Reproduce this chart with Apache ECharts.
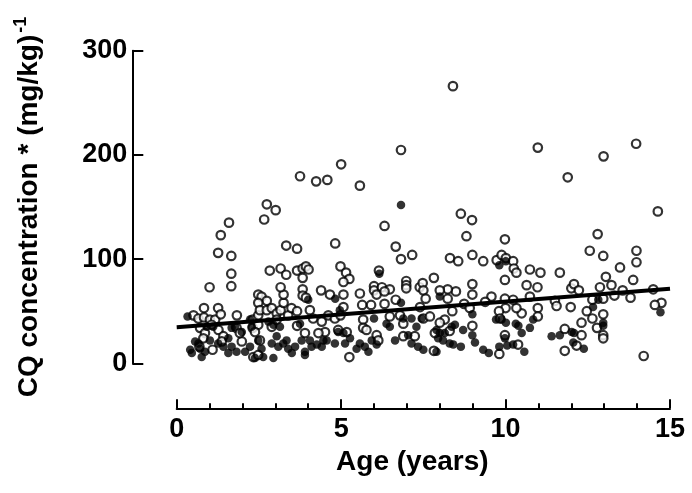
<!DOCTYPE html>
<html>
<head>
<meta charset="utf-8">
<script src="https://cdn.jsdelivr.net/npm/echarts@6/dist/echarts.min.js"></script>
<style>html,body{margin:0;padding:0;background:#fff}#c{width:692px;height:493px}</style>
</head>
<body>
<div id="c"></div>
<script>
// Open circles: age (years) and CQ concentration
const openAge = [8.4,8.64,8.98,10.98,11.89,12.98,13.97,14.63,6.82,5.0,3.75,4.24,4.58,5.57,2.74,3.01,1.59,2.66,6.32,
0.51,0.66,0.83,0.83,1.01,1.17,1.26,1.34,1.83,1.0,1.66,1.66,1.34,1.26,1.66,0.71,0.86,1.06,0.81,0.69,1.09,1.27,1.42,1.37,1.82,1.98,1.92,
2.31,2.31,2.48,2.48,2.58,2.74,2.48,2.53,2.74,2.89,3.04,3.16,3.25,3.25,3.16,2.83,3.16,3.33,3.66,3.83,3.93,4.01,3.83,3.83,3.83,3.93,3.33,3.66,
2.48,2.38,2.33,2.48,2.53,2.89,3.04,3.39,3.49,3.66,3.66,3.9,4.05,4.15,4.39,4.66,4.41,4.51,4.31,4.61,4.81,4.98,5.15,5.25,5.07,5.07,4.82,4.98,5.07,4.91,5.17,5.25,
5.57,5.64,5.67,5.67,5.77,5.91,6.0,6.0,6.24,6.48,6.08,6.32,6.32,6.08,6.13,6.48,6.66,6.79,6.89,6.98,6.98,6.98,7.39,7.48,7.5,7.57,7.16,6.82,6.66,6.15,7.5,7.24,6.89,
8.81,9.98,8.31,8.56,8.99,9.32,9.73,9.88,10.01,10.23,10.25,10.33,10.74,11.06,11.65,12.56,12.8,12.97,13.48,13.98,13.98,13.88,13.05,13.22,12.87,13.56,13.8,13.31,12.97,12.64,12.0,12.08,12.23,
11.5,11.55,11.98,12.47,12.64,12.97,12.78,12.97,12.97,12.31,12.31,11.8,11.8,12.16,14.49,14.74,14.54,14.2,10.64,10.97,10.74,10.98,10.98,10.49,10.33,10.23,9.98,9.98,10.0,9.8,9.83,9.98,10.38,9.81,
9.57,9.38,8.99,8.99,8.99,8.74,8.91,8.49,8.24,8.24,8.0,7.82,7.4,7.7,8.15,8.38,8.3,8.0,7.82,7.85];
const openConc = [266,143.6,137.5,207,178.5,198.6,210.7,145.8,204.7,191,179.5,174.6,176,170.5,152.6,147,135,138,131.8,
46,43,53,44,42,42,53,47,46,73,86,74,123,106,103,34,29,37,24,16,13,32,26,21,34,21,29,
42,34,46,66,64,60,58,51,51,53,48,51,58,66,73,89,91,85,89,91,93,90,82,71,65,63,113,110,
37,30,6,8,22,35,42,46,53,50,36,29,51,43,70,66,40,30,29,46,43,93,87,81,78,66,115,46,54,32,30,6,
67,56,42,34,32,56,74,70,73,71,66,69,57,27,22,45,61,46,38,79,75,72,73,77,70,62,104,100,112,89,43,26,26,
122,119,101,98,104,98,99,104,101,98,91,87,90,87,87,108,124,103,92,108,97,80,83,75,73,70,63,65,62,61,72,76,70,
60,55,54,50,43,47,34,27,24,39,27,33,12,17,71,58,56,7,75,73,64,53,45,48,53,61,80,62,53,50,43,27,18,9,
64,59,76,66,36,57,53,69,71,62,70,82,54,45,42,50,31,39,12,29];
// Filled circles
const filledAge = [6.82,0.33,0.41,0.46,0.56,0.66,0.76,0.86,0.71,0.91,1.11,1.01,1.26,1.42,1.57,1.67,1.77,1.57,1.82,1.67,1.98,2.08,2.23,2.28,2.23,2.38,2.58,2.63,2.48,2.79,2.94,2.94,2.89,3.04,3.14,3.09,3.24,3.34,3.39,3.5,3.6,3.75,3.8,3.9,3.9,4.0,4.05,4.1,4.26,4.41,4.46,4.56,4.82,4.81,4.91,4.96,5.07,5.12,5.27,5.47,5.57,5.72,5.83,5.93,6.0,6.16,6.08,6.38,6.48,6.64,6.82,6.89,7.04,7.14,7.14,7.29,7.34,7.45,
8.0,8.0,7.9,8.15,8.1,7.95,8.36,8.46,8.71,8.3,8.41,8.64,7.5,7.9,8.99,8.99,9.07,9.32,9.49,9.81,9.98,10.05,10.23,9.81,10.01,9.71,9.88,10.01,10.31,10.39,10.49,10.57,10.74,10.84,11.4,11.65,12.01,12.08,12.06,12.38,12.97,12.97,12.82,14.71,12.66];
const filledConc = [152,45,13,10,21,19,6,11,14,35,35,22,19,16,10,34,35,24,11,16,30,11,42,35,16,5,14,6,22,40,37,5,19,26,35,16,19,22,14,10,16,38,22,8,11,61,22,16,18,16,22,22,62,19,30,51,29,19,24,14,19,16,11,22,43,86,18,38,35,22,58,43,27,43,19,35,16,43,
64,29,32,29,22,24,35,37,32,19,18,16,13,11,47,27,20,13,10,16,24,17,18,94,98,42,42,39,38,36,29,11,34,42,26,27,30,29,20,14,36,39,61,49,54];
// Regression line
const lineAge = [0, 15];
const lineConc = [34.5, 71.6];

const zip = (a, b) => a.map((v, i) => [v, b[i]]);
const FONT = '"Liberation Sans", Arial, Helvetica, sans-serif';
const chart = echarts.init(document.getElementById('c'), null, {renderer: 'canvas'});
chart.setOption({
  animation: false,
  backgroundColor: '#fff',
  grid: {left: 176.7, right: 22, top: 50.7, bottom: 129.7, containLabel: false},
  xAxis: {
    type: 'value', min: 0, max: 15, interval: 5, offset: 45,
    axisLine: {show: true, onZero: false, lineStyle: {color: '#000', width: 2}},
    axisTick: {show: true, inside: true, length: 9, lineStyle: {color: '#000', width: 2}},
    minorTick: {show: true, splitNumber: 5, length: 5, lineStyle: {color: '#000', width: 2}},
    splitLine: {show: false}, minorSplitLine: {show: false},
    axisLabel: {color: '#000', fontSize: 27, fontWeight: 'bold', fontFamily: FONT, margin: 8},
    name: 'Age (years)', nameLocation: 'middle', nameGap: 36,
    nameTextStyle: {color: '#000', fontSize: 28, fontWeight: 'bold', fontFamily: FONT, padding: [0, 22, 0, 0]}
  },
  yAxis: {
    type: 'value', min: 0, max: 300, interval: 100, offset: 44.4,
    axisLine: {show: true, onZero: false, lineStyle: {color: '#000', width: 2}},
    axisTick: {show: true, inside: true, length: 11, lineStyle: {color: '#000', width: 2}},
    splitLine: {show: false},
    axisLabel: {color: '#000', fontSize: 27, fontWeight: 'bold', fontFamily: FONT, margin: 5},
    name: '{a|CQ concentration * (mg/kg)}{b|-1}', nameLocation: 'middle', nameGap: 86,
    nameTextStyle: {
      color: '#000', fontSize: 28, fontWeight: 'bold', fontFamily: FONT,
      rich: {
        a: {fontSize: 28, fontWeight: 'bold', fontFamily: FONT, color: '#000', lineHeight: 34},
        b: {fontSize: 18, fontWeight: 'bold', fontFamily: FONT, color: '#000', verticalAlign: 'top', padding: [0, 0, 14, 2]}
      }
    }
  },
  series: [
    {type: 'scatter', data: zip(openAge, openConc), symbol: 'circle', symbolSize: 8.5,
     itemStyle: {color: '#fff', borderColor: '#000', borderWidth: 2.2}, z: 2},
    {type: 'scatter', data: zip(filledAge, filledConc), symbol: 'circle', symbolSize: 8.5,
     itemStyle: {color: '#000', borderColor: '#000', borderWidth: 0}, z: 3},
    {type: 'line', data: zip(lineAge, lineConc), showSymbol: false, symbol: 'none',
     lineStyle: {color: '#000', width: 4}, z: 4}
  ]
});
</script>
</body>
</html>
